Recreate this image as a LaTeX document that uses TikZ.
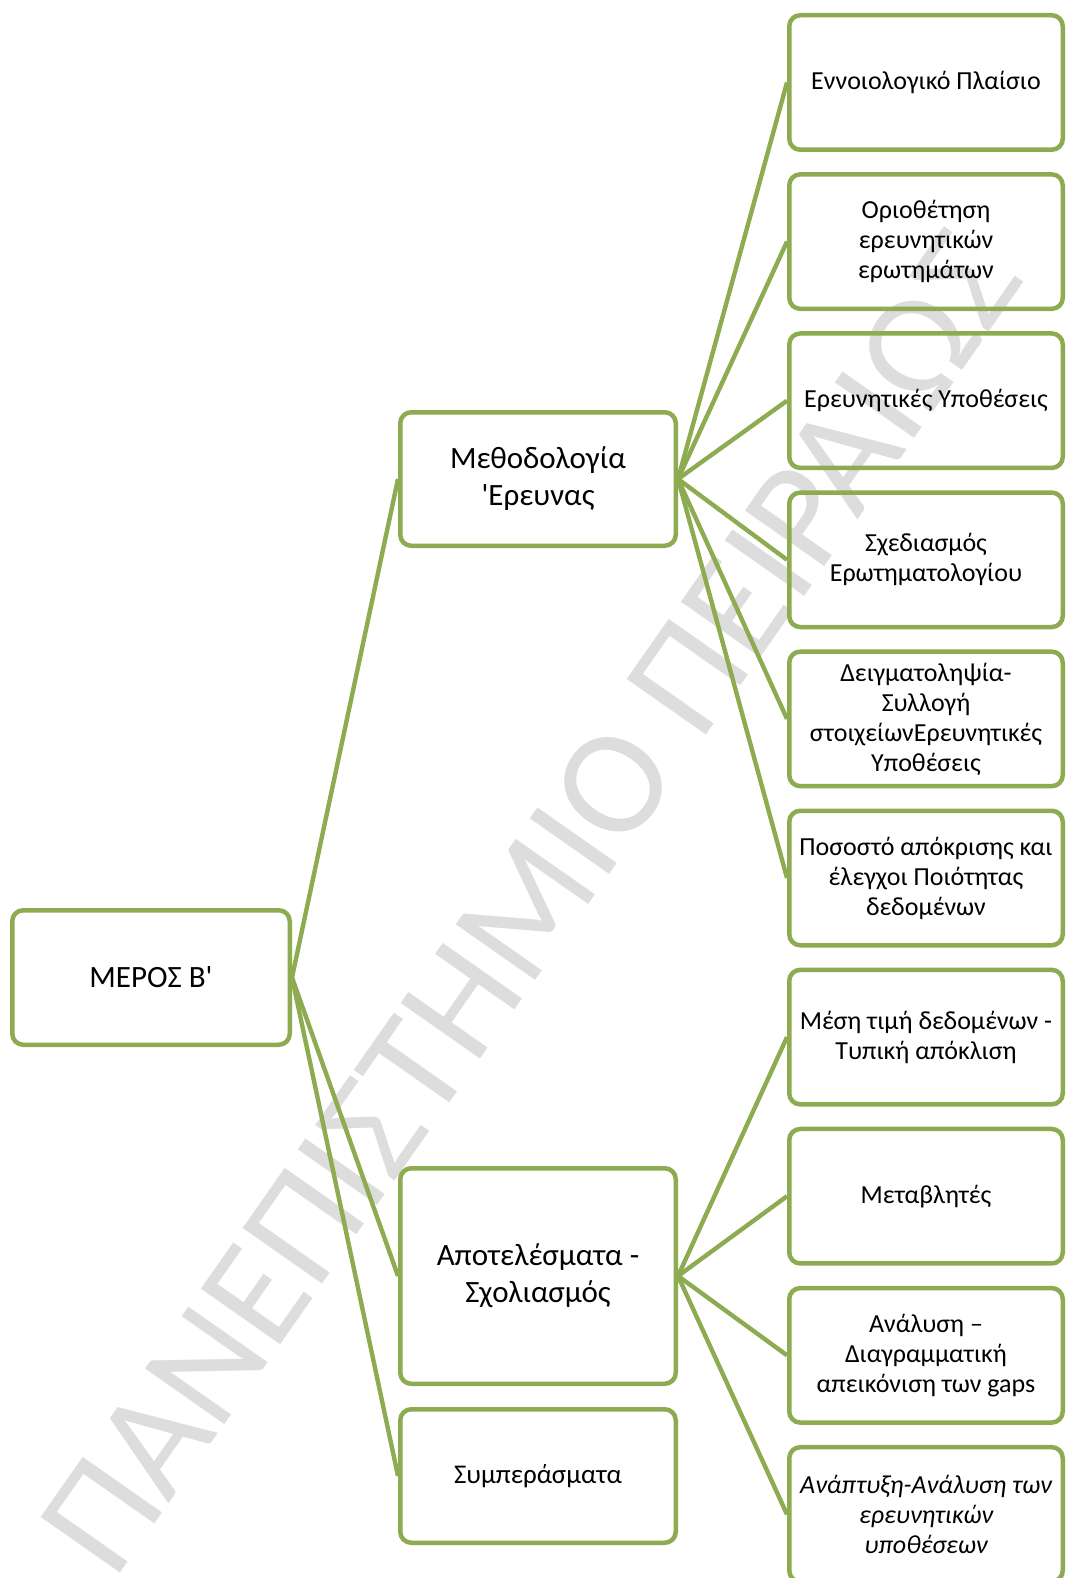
\documentclass[tikz,border=0pt]{standalone}
\usepackage{fontspec}
\setmainfont{Carlito}[Ligatures=TeXOff]
\definecolor{grn}{RGB}{141,171,80}
\definecolor{wmgray}{RGB}{221,221,221}
\begin{document}
\begin{tikzpicture}[x=0.5pt,y=-0.5pt,
  box/.style={draw=grn, line width=2.25pt, rounded corners=5.5pt, align=center, inner sep=2pt, text=black},
  smallbox/.style={box, minimum width=136.75pt, minimum height=67.25pt, font=\fontsize{13}{15}\selectfont},
  midbox/.style={box, minimum width=137.75pt, font=\fontsize{15.5}{18.5}\selectfont},
  link/.style={draw=grn, line width=2.2pt}]
\useasboundingbox (0,0) rectangle (1067,1578);
% watermark
\node[rotate=55, anchor=base west, inner sep=0pt, text=wmgray, font=\fontsize{75.5}{80}\selectfont] (wm) at (114,1582) {ΠΑΝΕΠΙΣΤΗΜΙΟ ΠΕΙΡΑΙΩΣ};
% root
\node[midbox, minimum width=138.75pt, minimum height=67.25pt] (root) at (151,977.5) {ΜΕΡΟΣ Β'};
% middle column
\node[midbox, minimum height=66.75pt] (meth) at (538,479) {Μεθοδολογία\\'Ερευνας};
\node[midbox, minimum height=107.75pt] (res) at (538,1276) {Αποτελέσματα -\\Σχολιασμός};
\node[box, minimum width=137.75pt, minimum height=66.75pt, font=\fontsize{13.5}{16}\selectfont] (concl) at (538,1476) {Συμπεράσματα};
% right column
\node[smallbox] (r1) at (926,82.5) {Εννοιολογικό Πλαίσιο};
\node[smallbox] (r2) at (926,241.6) {Οριοθέτηση\\ερευνητικών\\ερωτημάτων};
\node[smallbox] (r3) at (926,400.7) {Ερευνητικές Υποθέσεις};
\node[smallbox] (r4) at (926,559.8) {Σχεδιασμός\\Ερωτηματολογίου};
\node[smallbox] (r5) at (926,718.9) {Δειγματοληψία-\\Συλλογή\\στοιχείωνΕρευνητικές\\Υποθέσεις};
\node[smallbox] (r6) at (926,878.0) {Ποσοστό απόκρισης και\\έλεγχοι Ποιότητας\\δεδομένων};
\node[smallbox] (r7) at (926,1037.1) {Μέση τιμή δεδομένων -\\Τυπική απόκλιση};
\node[smallbox] (r8) at (926,1196.2) {Μεταβλητές};
\node[smallbox] (r9) at (926,1355.3) {Ανάλυση –\\Διαγραμματική\\απεικόνιση των gaps};
\node[smallbox, font=\fontsize{13}{15}\selectfont\itshape] (r10) at (926,1514.4) {Ανάπτυξη-Ανάλυση των\\ερευνητικών\\υποθέσεων};
% connectors
\draw[link] (root.east) -- (meth.west);
\draw[link] (root.east) -- (res.west);
\draw[link] (root.east) -- (concl.west);
\foreach \n in {r1,r2,r3,r4,r5,r6} {\draw[link] (meth.east) -- (\n.west);}
\foreach \n in {r7,r8,r9,r10} {\draw[link] (res.east) -- (\n.west);}
\end{tikzpicture}
\end{document}
